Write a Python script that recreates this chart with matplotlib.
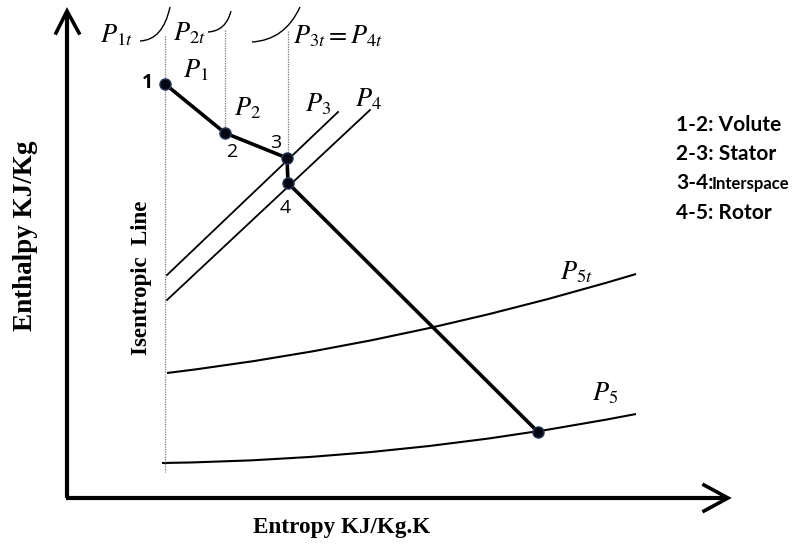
import matplotlib.pyplot as plt
from matplotlib.path import Path
from matplotlib.patches import PathPatch

# state points of the turbine expansion (drawing units, y grows downward)
state_labels = ['1', '2', '3', '4', '5']
state_s = [165, 225, 287, 288, 538]
state_h = [84, 133, 158, 183, 432]

# isobars drawn as straight lines: (s0, h0, s1, h1)
p3_line = [167, 275, 338, 112]
p4_line = [167, 300, 370, 110]

# curved isobars as quadratic bezier: start, control, end
p5t_curve = [(167, 373), (400, 345), (636, 274)]
p5_curve = [(162, 463), (400, 460), (636, 414)]
p1t_curve = [(140, 41), (163, 40), (170, 7)]
p2t_curve = [(208, 32), (226, 31), (231, 11)]
p3t_curve = [(252, 42), (285, 40), (300, 7)]

# dotted constant-entropy guides: (s, h_top, h_bottom)
guides = [(165, 36, 472), (225, 30, 133), (288, 31, 158)]

legend_lines = ['1-2: Volute', '2-3: Stator', '3-4:', '4-5: Rotor']

plt.rcParams['mathtext.fontset'] = 'stix'

fig = plt.figure(figsize=(7.98, 5.44), dpi=100)
ax = fig.add_axes([0, 0, 1, 1])
ax.set_xlim(0, 798)
ax.set_ylim(544, 0)
ax.axis('off')


def bezier(pts, lw=1.3):
    path = Path(pts, [Path.MOVETO, Path.CURVE3, Path.CURVE3])
    ax.add_patch(PathPatch(path, fill=False, lw=lw, color='black'))


# axes with open arrow heads
ax.plot([67, 67], [498, 12], color='black', lw=3, solid_capstyle='butt')
ax.plot([65.5, 726], [498, 498], color='black', lw=3, solid_capstyle='butt')
ax.plot([56, 67, 79], [33, 11, 33], color='black', lw=2.6, solid_joinstyle='miter')
ax.plot([704, 728, 704], [485, 498, 511], color='black', lw=2.6, solid_joinstyle='miter')

# dotted guides
for s, h0, h1 in guides:
    ax.plot([s, s], [h0, h1], color='#777777', lw=0.9, ls=(0, (1, 1)))

# isobars
ax.plot(p3_line[0::2], p3_line[1::2], color='black', lw=1.3)
ax.plot(p4_line[0::2], p4_line[1::2], color='black', lw=1.3)
for c in [p5t_curve, p5_curve]:
    bezier(c, lw=1.5)
for c in [p1t_curve, p2t_curve, p3t_curve]:
    bezier(c, lw=1.0)

# process line
ax.plot(state_s, state_h, color='black', lw=2.6, zorder=3)
ax.plot(state_s, state_h, 'o', ms=8, mfc='#050510', mec='#203860', mew=1.0, zorder=4)

# state numbers
num_pos = [(147, 83), (233, 152), (276, 143), (285, 208)]
for lab, (x, y) in zip(state_labels[:4], num_pos):
    ax.text(x, y, lab, fontsize=14, family='Open Sans',
            fontweight='bold' if lab == '1' else 'normal',
            ha='center', va='center')

# pressure labels
mlabels = [('$P_{1t}$', 116, 35), ('$P_{2t}$', 189, 33), ('$P_{3t} = P_{4t}$', 338, 36),
           ('$P_1$', 196, 70), ('$P_2$', 247, 108), ('$P_3$', 318, 104),
           ('$P_4$', 368, 99), ('$P_{5t}$', 576, 272), ('$P_5$', 605, 393)]
for t, x, y in mlabels:
    ax.text(x, y, t, fontsize=19, ha='center', va='center')

# legend text
ly = [125, 154, 183, 213]
for t, y in zip(legend_lines, ly):
    ax.text(676, y, t, fontsize=15, family='Lato', fontweight='bold', va='center')
ax.text(712, 184, 'Interspace', fontsize=12, family='Lato', fontweight='bold', va='center')

# axis labels
ax.text(26, 236, 'Enthalpy KJ/Kg', rotation=90, fontsize=19.5, family='Liberation Serif',
        fontweight='bold', ha='center', va='center')
ax.text(342, 528, 'Entropy KJ/Kg.K', fontsize=16.7, family='Liberation Serif',
        fontweight='bold', ha='center', va='center')
ax.text(141, 278, 'Isentropic  Line', rotation=90, fontsize=16.5, family='Liberation Serif',
        fontweight='bold', ha='center', va='center')

fig.savefig('out.png', dpi=100)
